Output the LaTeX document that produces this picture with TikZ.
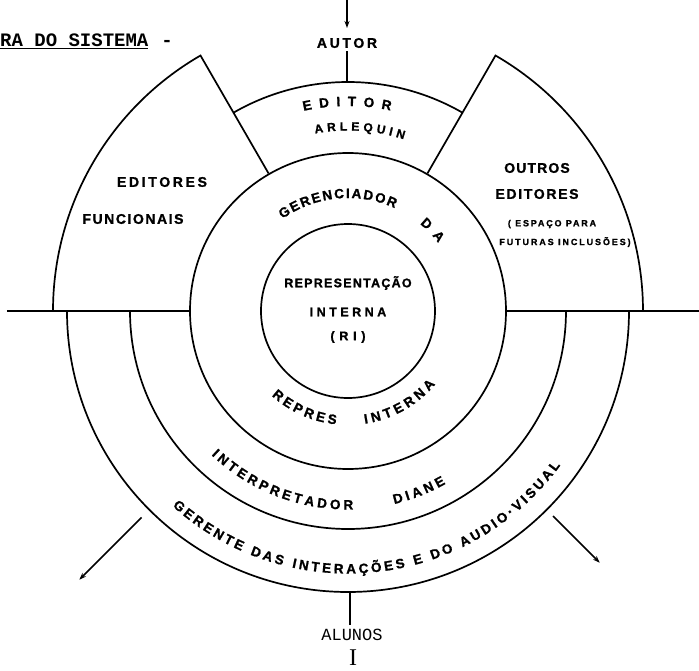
\documentclass[tikz,border=0pt]{standalone}
\usepackage{fontspec}
\setmainfont{Liberation Sans}
\newfontfamily\letfont{Liberation Sans Bold}[FakeBold=1.2]
\newfontfamily\typefont{Liberation Mono}
\newfontfamily\typefontbold{Liberation Mono Bold}
\newfontfamily\serfont{Liberation Serif}
\usetikzlibrary{decorations.text,arrows.meta}

% lettering fonts
\newcommand\lettering[1]{\letfont\fontsize{#1}{#1}\selectfont}
\newcommand\arcfont{\lettering{13.5}}
\newcommand\arcfontsmall{\lettering{12}}
% text set along a circular arc: radius, start angle, end angle, font, text
\newcommand\arctext[5]{%
  \path[decorate,decoration={text along path,text align={fit to path},
    text={|#4|#5}}] (#2:#1pt) arc[start angle=#2,end angle=#3,radius=#1pt];}

\begin{document}
\begin{tikzpicture}[x=1pt,y=1pt,
  ring/.style={line width=1.7pt},
  lbl/.style={inner sep=0pt,font=\lettering{14}},
  lblmid/.style={inner sep=0pt,font=\lettering{12.5}},
  lblsmall/.style={inner sep=0pt,font=\lettering{9}},
  flow/.style={line width=1.7pt,-{Stealth[length=7pt,width=5pt]}}]
\useasboundingbox (-348,-359) rectangle (351,311);

% concentric layers
\node[circle,draw,ring,minimum size=174pt,inner sep=0pt] (riRing) at (0,0) {};
\node[circle,draw,ring,minimum size=316pt,inner sep=0pt] (gerRing) at (0,0) {};
\draw[ring] (-218,0) arc[start angle=180,end angle=360,radius=218pt];
\draw[ring] (-281,0) arc[start angle=180,end angle=360,radius=281pt];

% dividing horizontal line
\coordinate (lineW) at (-341,0);
\coordinate (lineE) at (351,0);
\draw[ring] (lineW) -- (gerRing.west);
\draw[ring] (gerRing.east) -- (lineE);

% editor sectors
\draw[ring] (gerRing.120) -- (120:295pt) arc[start angle=120,end angle=180,radius=295pt];
\draw[ring] (gerRing.60) -- (60:295pt) arc[start angle=60,end angle=0,radius=295pt];
\draw[ring] (60:229pt) arc[start angle=60,end angle=120,radius=229pt];

% centre text
\node[lblmid] (ri1) at (0,28) {\addfontfeature{LetterSpace=10}REPRESENTAÇÃO};
\node[lblmid] (ri2) at (0,-1) {\addfontfeature{LetterSpace=28}INTERNA};
\node[lblmid] (ri3) at (0,-26) {\addfontfeature{LetterSpace=38}(RI)};

% sector text
\node[lbl] (edf1) at (-186,129) {\addfontfeature{LetterSpace=19}EDITORES};
\node[lbl] (edf2) at (-215,92) {\addfontfeature{LetterSpace=11}FUNCIONAIS};
\node[lbl] (out1) at (189,143) {\addfontfeature{LetterSpace=8}OUTROS};
\node[lbl] (out2) at (189,117) {\addfontfeature{LetterSpace=12}EDITORES};
\node[lblsmall] (out3) at (204,87) {\addfontfeature{LetterSpace=20}( ESPAÇO PARA};
\node[lblsmall] (out4) at (217,69) {\addfontfeature{LetterSpace=21}FUTURAS INCLUSÕES)};

% curved labels
\arctext{205}{102.5}{78}{\arcfont}{EDITOR}
\arctext{180.5}{100.5}{72}{\arcfontsmall}{ARLEQUIN}
\arctext{113}{125.5}{65.5}{\arcfont}{GERENCIADOR}
\arctext{113}{50.5}{37}{\arcfont}{DA}
\arctext{114}{228}{264}{\arcfont}{REPRES}
\arctext{114}{278.5}{320}{\arcfont}{INTERNA}
\arctext{198.5}{226.5}{271.5}{\arcfont}{INTERPRETADOR}
\arctext{198.5}{283.5}{299.5}{\arcfont}{DIANE}
\arctext{262.5}{228}{324}{\arcfont}{GERENTE DAS INTERAÇÕES E DO AUDIO·VISUAL}

% author input
\node[lbl] (autor) at (-1,268) {\addfontfeature{LetterSpace=19}AUTOR};
\coordinate (autorIn) at (-1,311);
\coordinate (autorArc) at (-1,229);
\draw[flow] (autorIn) -- (-1,283);
\draw[ring] (autor.south) ++(0,-3) -- (autorArc);

% students
\node[inner sep=0pt,font=\typefont\fontsize{17}{17}\selectfont] (alunos) at (4,-324) {ALUNOS};
\coordinate (alunosArc) at (2,-281);
\draw[ring] (alunos.north) ++(-2,4) -- (alunosArc);
\node[inner sep=0pt,font=\serfont\fontsize{24}{24}\selectfont] (cursor) at (5,-346.5) {I};

% outputs
\coordinate (outL0) at (225:292pt);
\coordinate (outL1) at (225:380pt);
\coordinate (outR0) at (315:290pt);
\coordinate (outR1) at (315:356pt);
\draw[flow] (outL0) -- (outL1);
\draw[flow] (outR0) -- (outR1);

% heading
\node[anchor=base west,inner sep=0pt,font=\typefontbold\fontsize{19}{19}\selectfont] (title) at (-348,264) {\underline{RA DO SISTEMA}};
\node[inner sep=0pt,font=\typefontbold\fontsize{19}{19}\selectfont] (titleDash) at (-181,268) {-};
\end{tikzpicture}
\end{document}
